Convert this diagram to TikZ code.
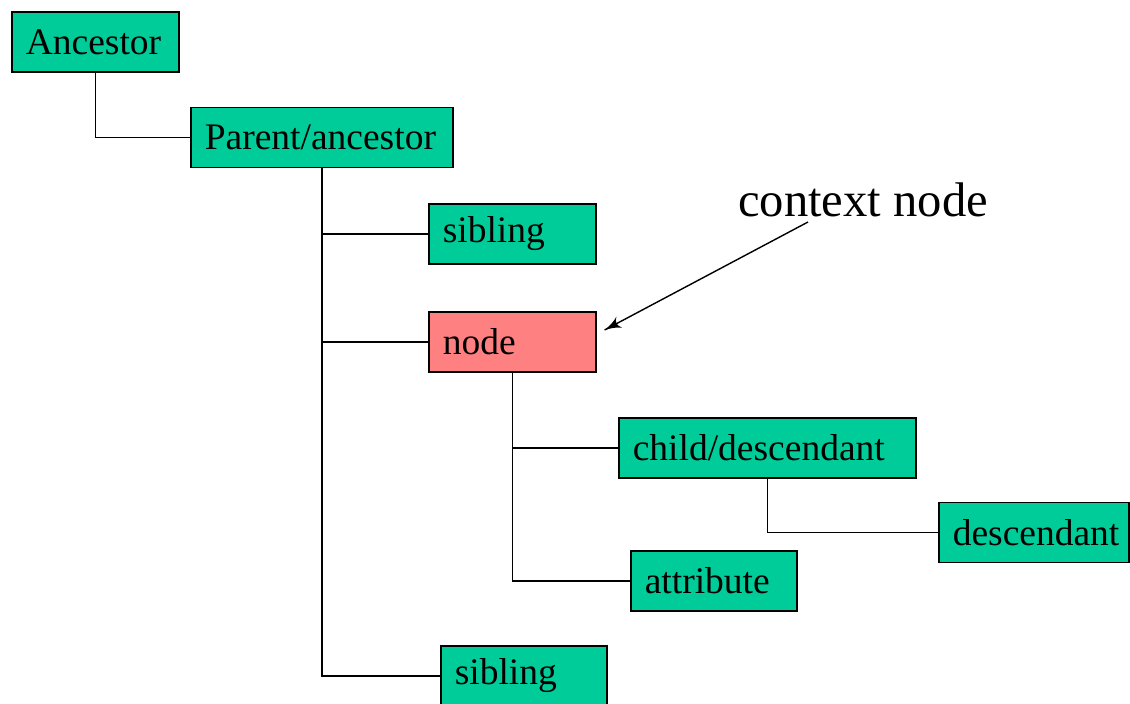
\documentclass[tikz,border=0pt]{standalone}
\usepackage{fontspec}
\setmainfont{Liberation Serif}
\usetikzlibrary{arrows}
\usetikzlibrary{decorations.markings}
\usetikzlibrary{positioning}
\definecolor{leaf}{RGB}{0,204,153}
\definecolor{focus}{RGB}{255,128,128}
\tikzset{box/.style = {draw, line width=0.8pt, fill=leaf, anchor=west,
                       minimum height=30pt, inner xsep=7pt, inner ysep=0pt,
                       align=left, font=\fontsize{18.75}{22}\selectfont}}
\tikzset{pointer/.style = {decoration={markings,
                                       mark=at position 1 with {\arrow[scale=1.7]{latex'}}},
                           postaction={decorate}}}

\begin{document}
\begin{tikzpicture}[x=0.5pt, y=-0.5pt, line width=0.7pt]
      \useasboundingbox (0, 0) rectangle (1130, 704);
      \node [box, text width=69.5pt] (anc) at (11, 42) {Ancestor};
      \node [box, text width=117pt] (par) at (190, 137.5) {Parent/ancestor};
      \node [box, text width=69.5pt] (sib1) at (428, 234) {sibling};
      \node [box, text width=69.5pt, fill=focus] (nd) at (428, 342) {node};
      \node [box, text width=134.5pt] (chd) at (618, 448) {child/descendant};
      \node [box, text width=81pt] (desc) at (938, 532.5) {descendant};
      \node [box, text width=69pt] (attr) at (630, 581) {attribute};
      \node [box, text width=69pt] (sib2) at (440, 676) {sibling};
      \node [font=\fontsize{24.3}{28}\selectfont] (ctx) at (863, 200) {context node};
      \coordinate (tail) at (808, 222);
      \draw (anc) |- (par);
      \draw (par) |- (sib1);
      \draw (par) |- (nd);
      \draw (par) |- (sib2);
      \draw (nd) |- (chd);
      \draw (nd) |- (attr);
      \draw (chd) |- (desc);
      \draw [pointer] (tail) -- ([xshift=4pt, yshift=6pt]nd.east);
    \end{tikzpicture}
\end{document}
